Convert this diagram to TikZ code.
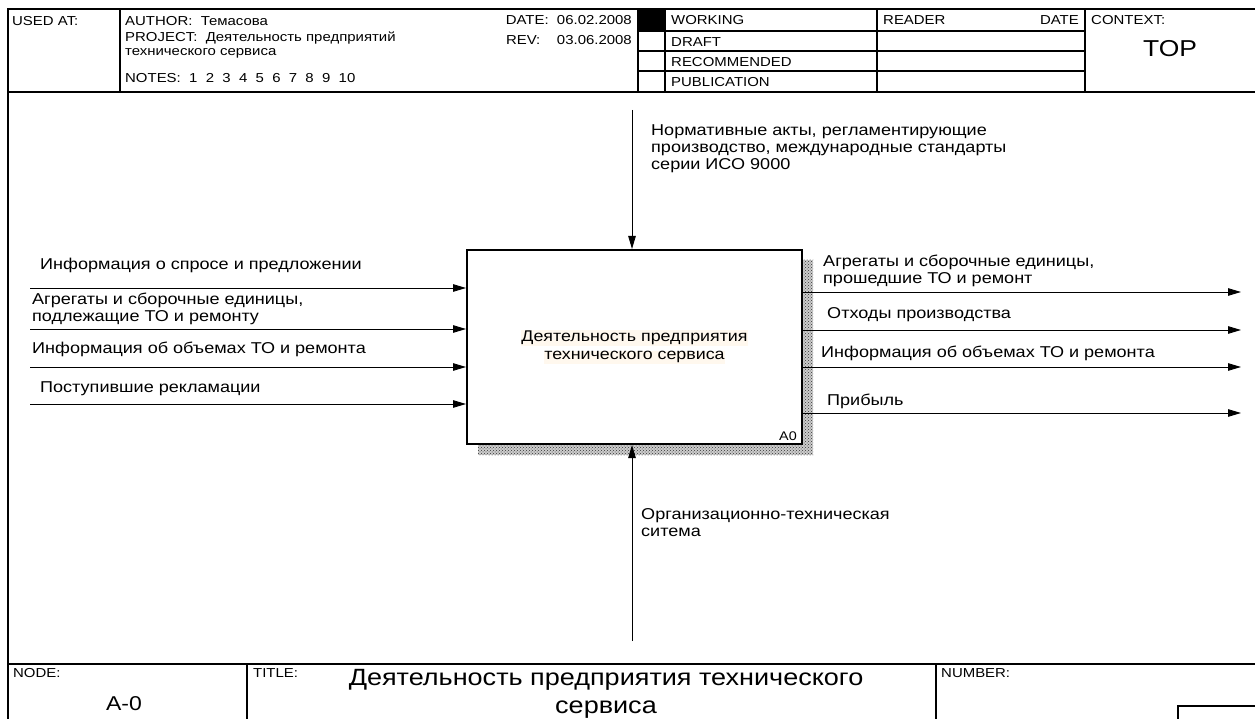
\documentclass[tikz,border=0pt]{standalone}
\usepackage{fontspec}
\setmainfont{Liberation Sans}[FakeStretch=1.15]
\usetikzlibrary{arrows.meta,patterns}
\definecolor{hlc}{HTML}{FFF8EE}
\setlength{\fboxsep}{0.8pt}
\begin{document}
\begin{tikzpicture}[x=1pt,y=-1pt,
  frm/.style={draw=black,line width=1.1pt},
  arr/.style={draw=black,line width=0.9pt,-{Triangle[length=13pt,width=7.5pt]}},
  lbl/.style={anchor=west,inner sep=0pt,font=\fontsize{15.7}{17}\selectfont,align=left},
  hdr/.style={anchor=west,inner sep=0pt,font=\fontsize{13}{14}\selectfont},
  hdrr/.style={anchor=east,inner sep=0pt,font=\fontsize{13}{14}\selectfont},
]
\useasboundingbox (0,0) rectangle (1255,719);
% outer frame
\draw[frm] (8,719) -- (8,9) -- (1256,9);
\draw[frm] (8,92) -- (1256,92);
\foreach \x in {120,638,665,877,1085} \draw[frm] (\x,9) -- (\x,92);
\foreach \y in {31,51,71} \draw[frm] (638,\y) -- (1085,\y);
\fill[black] (638,9) rectangle (665,31);
% header texts
\node[hdr] (usedat) at (12,21) {USED AT:};
\node[hdr] (author) at (125,21) {AUTHOR:\ \ Темасова};
\node[hdr] (project) at (125,38) {PROJECT:\ \ Деятельность предприятий};
\node[hdr] (project2) at (125,53) {технического сервиса};
\node[hdr] (notes) at (125,78) {NOTES:\ \ 1\ \ 2\ \ 3\ \ 4\ \ 5\ \ 6\ \ 7\ \ 8\ \ 9\ \ 10};
\node[hdrr] (date) at (632,20) {DATE:\ \ 06.02.2008};
\node[hdrr] (rev) at (632,40) {REV:\ \ \ \ 03.06.2008};
\node[hdr] (working) at (671,20) {WORKING};
\node[hdr] (draft) at (671,42) {DRAFT};
\node[hdr] (recom) at (671,62) {RECOMMENDED};
\node[hdr] (public) at (671,82) {PUBLICATION};
\node[hdr] (reader) at (883,20) {READER};
\node[hdrr] (rdate) at (1079,20) {DATE};
\node[hdr] (context) at (1091,20) {CONTEXT:};
\node[inner sep=0pt,font=\fontsize{23}{25}\selectfont] (top) at (1170,49) {TOP};
% footer
\draw[frm] (8,664) -- (1256,664);
\draw[frm] (247,664) -- (247,719);
\draw[frm] (936,664) -- (936,719);
\draw[frm] (1178,719) -- (1178,706) -- (1256,706);
\node[hdr] (nodelbl) at (13,673) {NODE:};
\node[inner sep=0pt,font=\fontsize{20}{22}\selectfont] (nodeno) at (124,704) {A-0};
\node[hdr] (titlelbl) at (253,673) {TITLE:};
\node[inner sep=0pt,align=center,font=\fontsize{23.5}{28}\selectfont] (title) at (606,694) {Деятельность предприятия технического\\сервиса};
\node[hdr] (numlbl) at (941,673) {NUMBER:};
% activity box
\fill[gray!40] (478,260) rectangle (813,455);
\fill[pattern=crosshatch dots,pattern color=black!80] (478,260) rectangle (813,455);
\node[draw=black,line width=2pt,fill=white,minimum width=335pt,minimum height=194pt,inner sep=0pt,align=center,font=\fontsize{15.5}{18}\selectfont] (A0) at (634.5,347) {\colorbox{hlc}{Деятельность предприятия}\\\colorbox{hlc}{технического сервиса}};
\node[anchor=east,inner sep=0pt,font=\fontsize{12.5}{14}\selectfont] (a0num) at (797,436) {A0};
% control
\coordinate (c1) at (632,110);
\draw[arr] (c1) -- (c1 |- A0.north);
\node[lbl] (c1l) at (651,149) {Нормативные акты, регламентирующие\\производство, международные стандарты\\серии ИСО 9000};
% mechanism
\coordinate (m1) at (632,641);
\draw[arr] (m1) -- (m1 |- A0.south);
\node[lbl] (m1l) at (641,523) {Организационно-техническая\\ситема};
% inputs
\coordinate (i1) at (30,288);
\coordinate (i2) at (30,329);
\coordinate (i3) at (30,367);
\coordinate (i4) at (30,404);
\foreach \i in {i1,i2,i3,i4} \draw[arr] (\i) -- (\i -| A0.west);
\node[lbl] (i1l) at (40,265) {Информация о спросе и предложении};
\node[lbl] (i2l) at (32,309) {Агрегаты и сборочные единицы,\\подлежащие ТО и ремонту};
\node[lbl] (i3l) at (32,349) {Информация об объемах ТО и ремонта};
\node[lbl] (i4l) at (40,389) {Поступившие рекламации};
% outputs
\coordinate (o1) at (1241,292);
\coordinate (o2) at (1241,330);
\coordinate (o3) at (1241,367);
\coordinate (o4) at (1241,413);
\foreach \o in {o1,o2,o3,o4} \draw[arr] (\o -| A0.east) -- (\o);
\node[lbl] (o1l) at (823,271) {Агрегаты и сборочные единицы,\\прошедшие ТО и ремонт};
\node[lbl] (o2l) at (827,315) {Отходы производства};
\node[lbl] (o3l) at (821,353) {Информация об объемах ТО и ремонта};
\node[lbl] (o4l) at (827,401) {Прибыль};
\end{tikzpicture}
\end{document}
